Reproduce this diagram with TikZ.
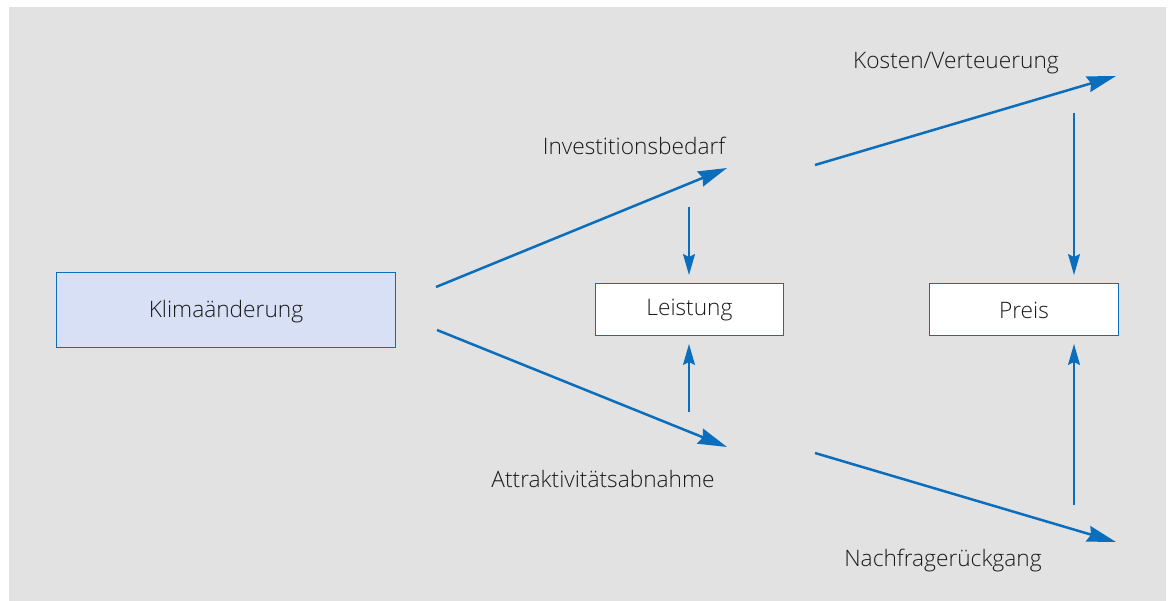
\documentclass[tikz,border=0pt]{standalone}
\usepackage{fontspec}
\setmainfont{Open Sans Light}
\usetikzlibrary{arrows.meta}
\definecolor{bg}{HTML}{E2E2E2}
\definecolor{ablue}{HTML}{0A6EBD}
\definecolor{kfill}{HTML}{D8E0F6}
\definecolor{txt}{HTML}{1A1A1A}
\tikzset{
  box/.style={draw=ablue, line width=0.9pt, inner sep=0pt, anchor=north west},
  lbl/.style={text=txt, font=\fontsize{22.7}{25}\selectfont},
  bigarrow/.style={draw=ablue, line width=2.5pt, -{Stealth[length=29pt,width=16pt,inset=3pt]}},
  smallarrow/.style={draw=ablue, line width=1.7pt, -{Stealth[length=21pt,width=12pt,inset=3pt]}},
}
\begin{document}
\begin{tikzpicture}[x=1pt,y=-1pt]
\useasboundingbox (0,0) rectangle (1170,601);
\fill[white] (0,0) rectangle (1170,601);
\fill[bg] (9,7) rectangle (1166,601);
% boxes
\node[box, fill=kfill, minimum width=339pt, minimum height=75pt] (klima) at (56,272) {};
\node[lbl] at ([yshift=-1.5pt]klima.center) {Klimaänderung};
\node[box, fill=white, minimum width=188pt, minimum height=52pt] (leist) at (595,283) {};
\node[lbl] at ([yshift=-1pt]leist.center) {Leistung};
\node[box, fill=white, minimum width=189pt, minimum height=52pt] (preis) at (929,283) {};
\node[lbl] at ([yshift=-1pt]preis.center) {Preis};
% labels
\node[lbl] (inv) at (634,146) {Investitionsbedarf};
\node[lbl] (att) at (603,479) {Attraktivitätsabnahme};
\node[lbl] (kost) at (956,63) {Kosten/Verteuerung};
\node[lbl] (nach) at (943,561) {Nachfragerückgang};
% coordinates
\coordinate (k1) at (436,287);
\coordinate (k2) at (437,330);
\coordinate (invL) at (727,168);
\coordinate (invR) at (815,165);
\coordinate (attL) at (727,447);
\coordinate (attR) at (815,453);
\coordinate (kostE) at (1116,76);
\coordinate (nachE) at (1116,542);
\coordinate (invB) at (689,207);
\coordinate (attT) at (689,412);
\coordinate (kostB) at (1074,113);
\coordinate (nachT) at (1074,505);
\coordinate (leT) at (689,275);
\coordinate (leB) at (689,344);
\coordinate (prT) at (1074,275);
\coordinate (prB) at (1074,344);
% arrows
\draw[bigarrow] (k1) -- (invL);
\draw[bigarrow] (k2) -- (attL);
\draw[bigarrow] (invR) -- (kostE);
\draw[bigarrow] (attR) -- (nachE);
\draw[smallarrow] (invB) -- (leT);
\draw[smallarrow] (attT) -- (leB);
\draw[smallarrow] (kostB) -- (prT);
\draw[smallarrow] (nachT) -- (prB);
\end{tikzpicture}
\end{document}
